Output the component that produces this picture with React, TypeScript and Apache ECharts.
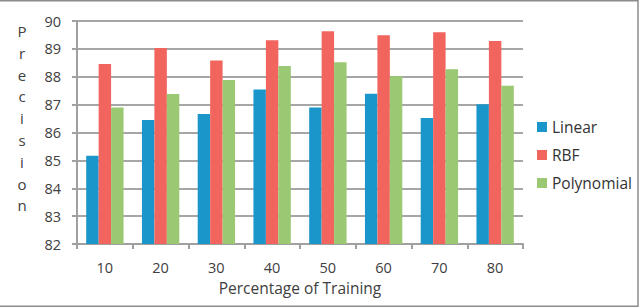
import React, { useEffect, useRef } from "react";
import * as echarts from "echarts";

const categories = ["10", "20", "30", "40", "50", "60", "70", "80"];
const linear = [85.17, 86.45, 86.66, 87.54, 86.9, 87.39, 86.52, 87.01];
const rbf = [88.46, 89.03, 88.58, 89.31, 89.63, 89.49, 89.6, 89.28];
const polynomial = [86.9, 87.38, 87.88, 88.39, 88.52, 88.02, 88.27, 87.68];
const seriesNames = ["Linear", "RBF", "Polynomial"];
const colors = ["#1B96CA", "#F2655F", "#9BC872"];
const yTitleLetters = "Precision".split("");

const FONT = "'Open Sans', 'Noto Sans', sans-serif";

export default function App() {
  const ref = useRef<HTMLDivElement>(null);
  useEffect(() => {
    document.body.style.margin = "0";
    const chart = echarts.init(ref.current!, null, { renderer: "svg" });
    const data = [linear, rbf, polynomial];
    chart.setOption({
      animation: false,
      backgroundColor: "#ffffff",
      textStyle: { fontFamily: FONT },
      grid: { left: 77, right: 117, top: 21, bottom: 64 },
      legend: {
        orient: "vertical",
        left: 532,
        top: 114,
        itemWidth: 10,
        itemHeight: 10,
        itemGap: 12,
        icon: "rect",
        textStyle: { fontSize: 15.5, color: "#333333", fontFamily: FONT, padding: [0, 0, 0, 0] },
        data: seriesNames,
      },
      xAxis: {
        type: "category",
        data: categories,
        name: "Percentage of Training",
        nameLocation: "middle",
        nameGap: 33,
        nameTextStyle: { fontSize: 15.5, color: "#404040", fontFamily: FONT },
        axisLine: { lineStyle: { color: "#a0a0a0", width: 2 } },
        axisTick: { show: true, length: 5, lineStyle: { color: "#a0a0a0", width: 2 } },
        axisLabel: { fontSize: 14.5, color: "#404040", margin: 16, fontFamily: FONT },
      },
      yAxis: {
        type: "value",
        min: 82,
        max: 90,
        interval: 1,
        axisLine: { show: true, lineStyle: { color: "#a0a0a0", width: 2 } },
        axisTick: { show: true, length: 5, lineStyle: { color: "#a0a0a0", width: 2 } },
        axisLabel: { fontSize: 14.5, color: "#404040", margin: 16, fontFamily: FONT },
        splitLine: { lineStyle: { color: "#a6a6a6", width: 2 } },
      },
      graphic: [
        {
          type: "rect",
          shape: { x: -2, y: 0.75, width: 640, height: 305.5 },
          style: { fill: "none", stroke: "#8c8c8c", lineWidth: 1.5 },
          silent: true,
        },
        ...yTitleLetters.map((ch, i) => ({
          type: "text",
          x: 22,
          y: 31 + i * 21.8,
          style: {
            text: ch,
            fontSize: 15,
            fill: "#404040",
            fontFamily: FONT,
            align: "center",
            verticalAlign: "middle",
          },
        })),
      ],
      series: seriesNames.map((name, i) => ({
        name,
        type: "bar",
        data: data[i],
        barGap: "0%",
        barCategoryGap: "33%",
        itemStyle: { color: colors[i] },
      })),
    });
    return () => chart.dispose();
  }, []);
  return (
    <div
      ref={ref}
      style={{ position: "absolute", left: 0, top: 0, width: 640, height: 308 }}
    />
  );
}
